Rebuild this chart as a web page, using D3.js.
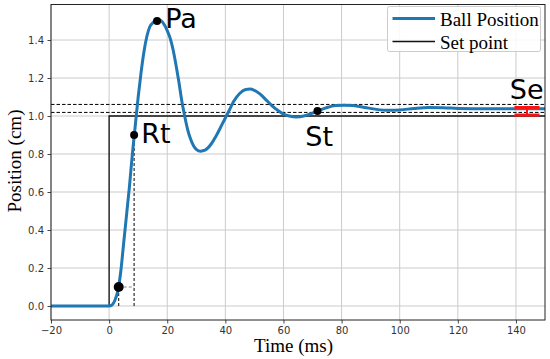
<!DOCTYPE html>
<html>
<head>
<meta charset="utf-8">
<script src="https://cdn.jsdelivr.net/npm/d3@7"></script>
<style>
  body { margin: 0; background: #fff; }
  svg { display: block; }
</style>
</head>
<body>
<svg id="chart" width="550" height="359"></svg>
<script>
// time (ms) and ball position (cm)
var timeMs = [-20, 0, 1, 2, 3, 4, 5, 6, 7, 8, 9, 10, 11, 12, 13, 14, 15, 16, 17, 18, 19, 20, 21, 22, 23, 24, 25, 26, 27, 28, 29, 30, 31.5, 33, 35, 37, 39, 41, 43, 45, 47, 48.5, 50, 52, 54, 56, 58, 60, 62, 64.5, 67, 70, 72, 75, 78, 81, 84, 88, 92, 96, 100, 105, 110, 115, 120, 130, 140, 150];
var ballPos = [0, 0, 0.005, 0.03, 0.08, 0.18, 0.33, 0.48, 0.63, 0.8, 0.95, 1.1, 1.23, 1.34, 1.42, 1.47, 1.49, 1.503, 1.505, 1.5, 1.48, 1.45, 1.41, 1.35, 1.27, 1.18, 1.08, 1.0, 0.93, 0.88, 0.845, 0.825, 0.815, 0.82, 0.85, 0.9, 0.96, 1.02, 1.08, 1.12, 1.14, 1.142, 1.135, 1.115, 1.085, 1.055, 1.03, 1.01, 1.0, 0.995, 1.0, 1.015, 1.028, 1.045, 1.055, 1.057, 1.055, 1.045, 1.035, 1.03, 1.032, 1.04, 1.045, 1.044, 1.04, 1.038, 1.038, 1.038];

// set point step
var setTime = [-20, 0, 0, 150];
var setVal = [0, 0, 1, 1];

// settling band (+-2 %) and marked points
var bandVals = [1.061, 1.019];
var markT = [3.3, 8.6, 16.5, 71.7];
var markV = [0.1, 0.9, 1.5, 1.026];

// annotation labels and where they sit
var labelText = ["Pa", "Rt", "St", "Se"];
var labelT = [19.3, 11.1, 67.5, 137.9];
var labelV = [1.463, 0.858, 0.842, 1.09];

// steady state error bar
var errT = [139.5, 148.1];
var errV = [1.005, 1.045];

var xTicks = [-20, 0, 20, 40, 60, 80, 100, 120, 140];
var yTicks = [0, 0.2, 0.4, 0.6, 0.8, 1.0, 1.2, 1.4];
var legendNames = ["Ball Position", "Set point"];

var svg = d3.select("#chart");
var margin = { top: 4.5, right: 5, bottom: 39, left: 51 };
var width = 550, height = 359;

var x = d3.scaleLinear().domain([-20, 150]).range([margin.left, width - margin.right]);
var y = d3.scaleLinear().domain([-0.0737, 1.587]).range([height - margin.bottom, margin.top]);

// grid
svg.append("g").selectAll("line").data(xTicks).join("line")
    .attr("x1", d => x(d)).attr("x2", d => x(d))
    .attr("y1", y.range()[0]).attr("y2", y.range()[1])
    .attr("stroke", "#cbcbcb").attr("stroke-width", 1);
svg.append("g").selectAll("line").data(yTicks).join("line")
    .attr("y1", d => y(d)).attr("y2", d => y(d))
    .attr("x1", x.range()[0]).attr("x2", x.range()[1])
    .attr("stroke", "#cbcbcb").attr("stroke-width", 1);

// axes
var xAxis = d3.axisBottom(x).tickValues(xTicks).tickSize(3.5).tickPadding(3.5)
    .tickFormat(d => d < 0 ? "\u2212" + Math.abs(d) : d);
var gx = svg.append("g").attr("transform", `translate(0,${y.range()[0]})`).call(xAxis);
var yAxis = d3.axisLeft(y).tickValues(yTicks).tickSize(3.5).tickPadding(3.5).tickFormat(d3.format(".1f"));
var gy = svg.append("g").attr("transform", `translate(${x.range()[0]},0)`).call(yAxis);
[gx, gy].forEach(function (g) {
    g.select(".domain").remove();
    g.selectAll("line").attr("stroke", "#444");
    g.selectAll("text").attr("fill", "#333").style("font-family", "DejaVu Sans").style("font-size", "10px");
});

// settling band
svg.append("g").selectAll("line").data(bandVals).join("line")
    .attr("x1", x(-20)).attr("x2", x(150))
    .attr("y1", d => y(d)).attr("y2", d => y(d))
    .attr("stroke", "#000").attr("stroke-width", 1).attr("stroke-dasharray", "3.5,2");

// rise time guides
svg.append("line")
    .attr("x1", x(markT[0])).attr("x2", x(markT[0]))
    .attr("y1", y(0)).attr("y2", y(markV[0]))
    .attr("stroke", "#000").attr("stroke-width", 1).attr("stroke-dasharray", "3,2");
svg.append("line")
    .attr("x1", x(markT[1])).attr("x2", x(markT[1]))
    .attr("y1", y(0)).attr("y2", y(markV[1]))
    .attr("stroke", "#000").attr("stroke-width", 1).attr("stroke-dasharray", "3,2");
svg.append("line")
    .attr("x1", x(markT[0])).attr("x2", x(markT[1]))
    .attr("y1", y(markV[0])).attr("y2", y(markV[0]))
    .attr("stroke", "#888").attr("stroke-width", 1).attr("stroke-dasharray", "3,2");

// set point
var setData = setTime.map((t, i) => [t, setVal[i]]);
svg.append("path").datum(setData)
    .attr("d", d3.line().x(d => x(d[0])).y(d => y(d[1])))
    .attr("fill", "none").attr("stroke", "#111").attr("stroke-width", 1.3);

// ball position
var ballData = timeMs.map((t, i) => [t, ballPos[i]]);
svg.append("path").datum(ballData)
    .attr("d", d3.line().curve(d3.curveMonotoneX).x(d => x(d[0])).y(d => y(d[1])))
    .attr("fill", "none").attr("stroke", "#1f77b4").attr("stroke-width", 3);

// error bar
svg.append("g").selectAll("line").data(errV).join("line")
    .attr("x1", x(errT[0])).attr("x2", x(errT[1]))
    .attr("y1", d => y(d)).attr("y2", d => y(d))
    .attr("stroke", "#ff1010").attr("stroke-width", 3);
svg.append("line")
    .attr("x1", x((errT[0] + errT[1]) / 2)).attr("x2", x((errT[0] + errT[1]) / 2))
    .attr("y1", y(errV[0])).attr("y2", y(errV[1]))
    .attr("stroke", "#ff1010").attr("stroke-width", 2);

// markers
svg.append("g").selectAll("circle").data(markT).join("circle")
    .attr("cx", d => x(d)).attr("cy", (d, i) => y(markV[i]))
    .attr("r", (d, i) => i === 0 ? 5 : 4).attr("fill", "#000");

// labels
svg.append("g").selectAll("text").data(labelText).join("text")
    .attr("x", (d, i) => x(labelT[i])).attr("y", (d, i) => y(labelV[i]))
    .style("font-family", "DejaVu Sans").style("font-size", "27px").attr("fill", "#000")
    .text(d => d);

// frame
svg.append("rect")
    .attr("x", x.range()[0]).attr("y", y.range()[1])
    .attr("width", x.range()[1] - x.range()[0]).attr("height", y.range()[0] - y.range()[1])
    .attr("fill", "none").attr("stroke", "#222").attr("stroke-width", 1);

// legend
var lg = svg.append("g");
lg.append("rect").attr("x", 387.5).attr("y", 6.5).attr("width", 153).attr("height", 45)
    .attr("rx", 2).attr("fill", "rgba(255,255,255,0.85)").attr("stroke", "#ccc").attr("stroke-width", 1);
var legColors = ["#1f77b4", "#111"];
var legWidths = [3, 1.3];
legendNames.forEach(function (name, i) {
    var ly = 18.5 + i * 23;
    lg.append("line").attr("x1", 392.5).attr("x2", 435).attr("y1", ly).attr("y2", ly)
        .attr("stroke", legColors[i]).attr("stroke-width", legWidths[i]);
    lg.append("text").attr("x", 440).attr("y", ly + 7)
        .style("font-family", "Liberation Serif").style("font-size", "19px").attr("fill", "#000")
        .text(name);
});

// axis titles
svg.append("text").attr("x", 293.5).attr("y", 352)
    .attr("text-anchor", "middle")
    .style("font-family", "Liberation Serif").style("font-size", "19px")
    .text("Time (ms)");
svg.append("text").attr("transform", "translate(20.5,161) rotate(-90)")
    .attr("text-anchor", "middle")
    .style("font-family", "Liberation Serif").style("font-size", "19px")
    .text("Position (cm)");
</script>
</body>
</html>
